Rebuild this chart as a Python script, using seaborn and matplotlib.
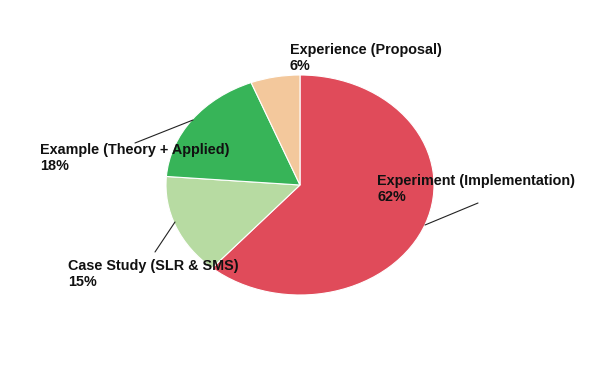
import matplotlib
matplotlib.use("Agg")
import matplotlib.pyplot as plt
import seaborn as sns
from matplotlib.lines import Line2D

categories = ["Experiment (Implementation)", "Case Study (SLR & SMS)",
              "Example (Theory + Applied)", "Experience (Proposal)"]
values = [62, 15, 18, 6]
colors = ["#E04B5A", "#B7DBA2", "#37B458", "#F3C89C"]

sns.set_theme(style="white")
plt.rcParams['font.family'] = ['Liberation Sans', 'DejaVu Sans']

W, H = 610, 377
fig = plt.figure(figsize=(W / 100, H / 100), dpi=100)
ax = fig.add_axes([0, 0, 1, 1])

cx, cy, rx, ry = 300, 185, 134, 110
ax.pie(values, colors=colors, startangle=90, counterclock=False,
       wedgeprops=dict(edgecolor="white", linewidth=0.8))
ax.set_aspect('auto')
ax.set_xlim(-cx / rx, (W - cx) / rx)
ax.set_ylim(-(H - cy) / ry, cy / ry)
ax.axis('off')


def fp(x, y):
    return x / W, 1 - y / H


labels = [
    (categories[0], values[0], 377, 189),
    (categories[1], values[1], 68, 274),
    (categories[2], values[2], 40, 158),
    (categories[3], values[3], 290, 58),
]
for name, v, x, y in labels:
    fx, fy = fp(x, y)
    fig.text(fx, fy, f"{name}\n{v}%", transform=fig.transFigure,
             fontsize=10.4, fontweight='bold', color='#111111',
             ha='left', va='center', linespacing=1.2)

leaders = [
    ((425, 225), (478, 203)),
    ((175, 222), (155, 252)),
    ((193, 120), (135, 143)),
]
for (x1, y1), (x2, y2) in leaders:
    a = fp(x1, y1)
    b = fp(x2, y2)
    fig.add_artist(Line2D([a[0], b[0]], [a[1], b[1]], transform=fig.transFigure,
                          color='#222222', linewidth=0.8))

fig.savefig("out.png", dpi=100, facecolor="white")
